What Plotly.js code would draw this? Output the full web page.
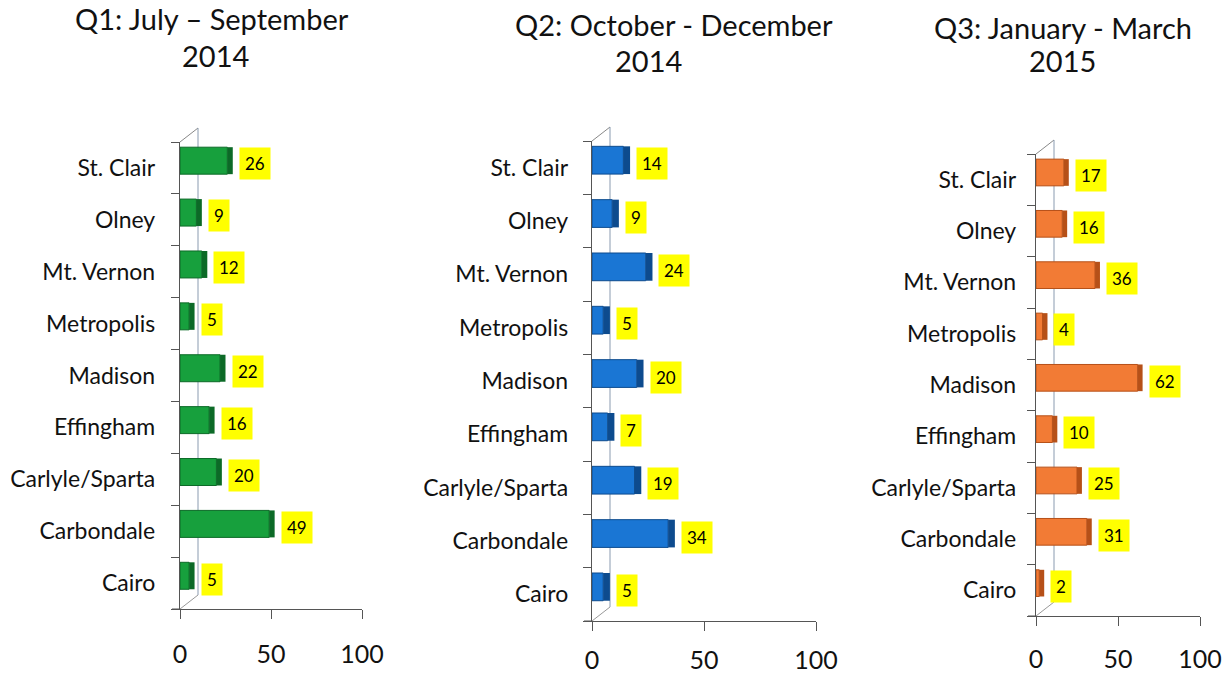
<!DOCTYPE html>
<html>
<head>
<meta charset="utf-8">
<script src="https://cdn.plot.ly/plotly-3.0.1.min.js"></script>
<style>html,body{margin:0;padding:0;background:#fff}#chart{width:1231px;height:675px}</style>
</head>
<body>
<div id="chart"></div>
<script>
// ---- data ----
const categories = ['Cairo','Carbondale','Carlyle/Sparta','Effingham','Madison','Metropolis','Mt. Vernon','Olney','St. Clair'];
const q1Values = [5, 49, 20, 16, 22, 5, 12, 9, 26];
const q2Values = [5, 34, 19, 7, 20, 5, 24, 9, 14];
const q3Values = [2, 31, 25, 10, 62, 4, 36, 16, 17];
const xTickVals = [0, 50, 100];
const xTickText = ['0', '50', '100'];
const titlesLine1 = ['Q1: July \u2013 September', 'Q2: October - December', 'Q3: January - March'];
const titlesLine2 = ['2014', '2014', '2015'];

// ---- style ----
const W = 1231, H = 675;
const FONT = 'Lato, "Open Sans", sans-serif';
const panels = [
  {values: q1Values, color: '#17a03d', dark: '#0c6a27', x0: 180, x1: 362, yTop: 142, yBot: 609,
   t1: [212, 19], t2: [216, 55], xStand: 14, yStand: 19},
  {values: q2Values, color: '#1a76d4', dark: '#0d4b8e', x0: 592, x1: 816, yTop: 141, yBot: 621,
   t1: [674, 24], t2: [648, 61], xStand: 8, yStand: 18},
  {values: q3Values, color: '#f27b35', dark: '#b65018', x0: 1036, x1: 1200, yTop: 154, yBot: 616,
   t1: [1063, 27], t2: [1062, 61], xStand: 12, yStand: 14}
];
const depth = 3;
const barW = 0.52, barShift = 0.14;
const px = p => p / W;
const py = p => 1 - p / H;

const traces = [];
const layout = {
  width: W, height: H,
  margin: {l: 0, r: 0, t: 0, b: 0},
  paper_bgcolor: '#fff', plot_bgcolor: 'rgba(0,0,0,0)',
  showlegend: false, barmode: 'overlay',
  font: {family: FONT, color: '#111'},
  annotations: [], shapes: []
};

panels.forEach((p, i) => {
  const n = i === 0 ? '' : String(i + 1);
  const xa = 'x' + n, ya = 'y' + n;
  traces.push({
    type: 'bar', orientation: 'h', y: categories, x: p.values,
    xaxis: xa, yaxis: ya, width: barW, offset: -barW / 2 + barShift,
    marker: {color: p.color, line: {color: p.dark, width: 1}},
    hoverinfo: 'skip'
  });
  traces.push({
    type: 'bar', orientation: 'h', y: categories, x: p.values.map(() => depth), base: p.values,
    xaxis: xa, yaxis: ya, width: barW, offset: -barW / 2 + barShift,
    marker: {color: p.dark, line: {width: 0}},
    hoverinfo: 'skip'
  });
  layout['xaxis' + n] = {
    domain: [px(p.x0), px(p.x1)], range: [0, 100], anchor: ya,
    tickvals: xTickVals, ticktext: xTickText,
    showline: true, linecolor: '#555', linewidth: 1.2,
    ticks: 'outside', ticklen: 9, tickcolor: '#555',
    showgrid: false, zeroline: false,
    tickfont: {family: FONT, size: 25, color: '#111'},
    ticklabelstandoff: p.xStand, fixedrange: true
  };
  layout['yaxis' + n] = {
    domain: [py(p.yBot), py(p.yTop)], type: 'category', range: [-0.5, 8.5], anchor: xa,
    showline: true, linecolor: '#555', linewidth: 1.2,
    ticks: 'outside', tickson: 'boundaries', ticklen: 8, tickcolor: '#555',
    showgrid: false, zeroline: false,
    tickfont: {family: FONT, size: 23, color: '#111'},
    ticklabelstandoff: p.yStand, fixedrange: true
  };
  // data labels
  p.values.forEach((v, k) => {
    layout.annotations.push({
      xref: xa, yref: ya, x: v + depth, y: categories[k],
      text: String(v), showarrow: false, xanchor: 'left', yanchor: 'middle',
      xshift: 6, yshift: 4, bgcolor: '#ffff00', borderpad: 5,
      font: {family: FONT, size: 17, color: '#000'}
    });
  });
  // titles
  layout.annotations.push({xref: 'paper', yref: 'paper', x: px(p.t1[0]), y: py(p.t1[1]),
    text: titlesLine1[i], showarrow: false, xanchor: 'center', yanchor: 'middle',
    font: {family: FONT, size: 29, color: '#111'}});
  layout.annotations.push({xref: 'paper', yref: 'paper', x: px(p.t2[0]), y: py(p.t2[1]),
    text: titlesLine2[i], showarrow: false, xanchor: 'center', yanchor: 'middle',
    font: {family: FONT, size: 29, color: '#111'}});
  // 3D wall decoration
  const dx = 18, dy = -14;
  const ln = (a, b, c, d, col) => layout.shapes.push({type: 'line', xref: 'paper', yref: 'paper', layer: 'below',
    x0: px(a), y0: py(b), x1: px(c), y1: py(d), line: {color: col, width: 1}});
  ln(p.x0, p.yTop, p.x0 + dx, p.yTop + dy, '#888');
  ln(p.x0 + dx, p.yTop + dy, p.x0 + dx, p.yBot + dy, '#8a9bb0');
  ln(p.x0, p.yBot, p.x0 + dx, p.yBot + dy, '#999');
  ln(p.x0 - 8, p.yBot, p.x0, p.yBot, '#555');
});

Plotly.newPlot('chart', traces, layout, {staticPlot: true, displayModeBar: false});
</script>
</body>
</html>
